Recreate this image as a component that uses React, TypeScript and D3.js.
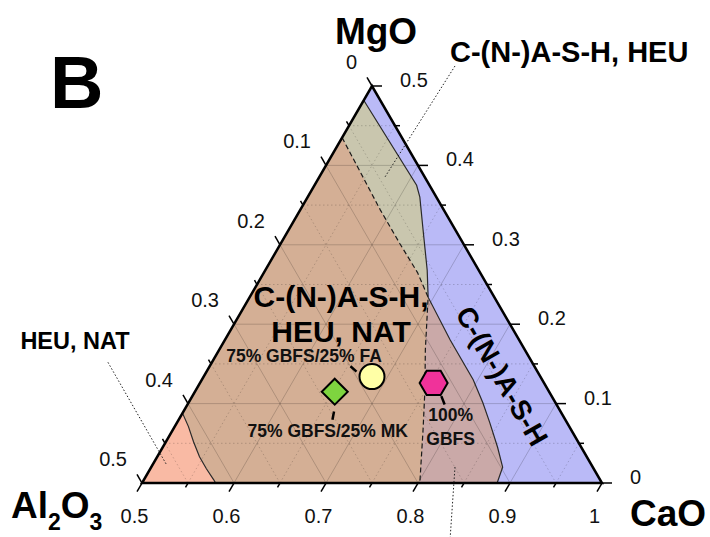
import React from "react";
import * as d3 from "d3";

// Ternary sub-triangle: CaO 0.5–1, MgO 0–0.5, Al2O3 0–0.5.
// Points are stored as [CaO, MgO]; Al2O3 = 1 - CaO - MgO.
type TP = [number, number];

const caoTicks = [0.5, 0.6, 0.7, 0.8, 0.9, 1];
const caoTickLabels = ["0.5", "0.6", "0.7", "0.8", "0.9", "1"];
const mgoTicks = [0, 0.1, 0.2, 0.3, 0.4, 0.5];
const mgoTickLabels = ["0", "0.1", "0.2", "0.3", "0.4", "0.5"];
const al2o3Ticks = [0, 0.1, 0.2, 0.3, 0.4, 0.5];
const al2o3TickLabels = ["0", "0.1", "0.2", "0.3", "0.4", "0.5"];
const minorSteps = [0.05, 0.1, 0.15, 0.2, 0.25, 0.3, 0.35, 0.4, 0.45];

// Phase-field boundaries
const heuNatBoundary: TP[] = [
  [0.5, 0.088], [0.515, 0.071], [0.53, 0.052], [0.546, 0.033],
  [0.561, 0.018], [0.576, 0.004], [0.58, 0],
];
const cashBoundary: TP[] = [
  [0.5, 0.482], [0.611, 0.375], [0.622, 0.36], [0.646, 0.319],
  [0.676, 0.268], [0.694, 0.234], [0.745, 0.18], [0.795, 0.13],
  [0.82, 0.101], [0.84, 0.076], [0.864, 0.045], [0.882, 0.02], [0.886, 0],
];
const dashedBoundary: TP[] = [
  [0.5, 0.435], [0.587, 0.344], [0.629, 0.302], [0.667, 0.265],
  [0.694, 0.234], [0.724, 0.168], [0.749, 0.117], [0.772, 0.067], [0.802, 0],
];

const mixNames = ["75% GBFS/25% FA", "75% GBFS/25% MK", "100% GBFS"];
const mixCaO = [0.683, 0.652, 0.754];
const mixMgO = [0.134, 0.115, 0.126];

const xScale = d3.scaleLinear().domain([0.5, 1]).range([142, 602]);
const yScale = d3.scaleLinear().domain([0, 0.5]).range([483, 86]);
const proj = (c: number, m: number): [number, number] => [xScale(c + m / 2), yScale(m)];

const lineGen = d3
  .line<TP>()
  .x((d) => proj(d[0], d[1])[0])
  .y((d) => proj(d[0], d[1])[1]);
const polyPath = (pts: TP[]) => lineGen(pts) + "Z";

const C_BROWN = "#D4AF95";
const C_GRAY = "#C9C6AE";
const C_BLUE = "#BABAF7";
const C_MAUVE = "#CAA9A8";
const C_SALMON = "#F9BAA4";

const FONT = "'Liberation Sans', Arial, Helvetica, sans-serif";

export default function App() {
  const triangle: TP[] = [[0.5, 0], [1, 0], [0.5, 0.5]];
  const grayPoly: TP[] = [...cashBoundary.slice(0, 6), ...dashedBoundary.slice(0, 4).reverse()];
  const bluePoly: TP[] = [...cashBoundary, [1, 0], [0.5, 0.5]];
  const mauvePoly: TP[] = [...dashedBoundary.slice(4), ...cashBoundary.slice(5).reverse()];
  const salmonPoly: TP[] = [[0.5, 0], ...heuNatBoundary];

  // grid lines
  const grid: { a: TP; b: TP; major: boolean }[] = [];
  minorSteps.forEach((v) => {
    const major = Math.abs(Math.round(v * 10) - v * 10) < 1e-6;
    const c = 0.5 + v;
    grid.push({ a: [c, 0], b: [c, 1 - c], major }); // constant CaO
    grid.push({ a: [0.5, v], b: [1 - v, v], major }); // constant MgO
    grid.push({ a: [0.5, 0.5 - v], b: [1 - v, 0], major }); // constant Al2O3
  });

  const tickVals = [0, ...minorSteps, 0.5];
  const ticks: JSX.Element[] = [];
  tickVals.forEach((v, i) => {
    const major = Math.abs(Math.round(v * 10) - v * 10) < 1e-6;
    const len = major ? 10 : 5;
    // CaO (bottom): along constant-CaO direction, outward down-left
    const [bx, by] = proj(0.5 + v, 0);
    ticks.push(<line key={"b" + i} x1={bx} y1={by} x2={bx - len * 0.5} y2={by + len * 0.866} />);
    // Al2O3 (left): along constant-Al2O3 direction, outward up-left
    const [lx, ly] = proj(0.5, 0.5 - v);
    ticks.push(<line key={"l" + i} x1={lx} y1={ly} x2={lx - len * 0.5} y2={ly - len * 0.866} />);
    // MgO (right): horizontal, outward to the right
    const [rx, ry] = proj(1 - v, v);
    ticks.push(<line key={"r" + i} x1={rx} y1={ry} x2={rx + len} y2={ry} />);
  });

  const [cx, cy] = proj(mixCaO[0], mixMgO[0]);
  const [dx, dy] = proj(mixCaO[1], mixMgO[1]);
  const [hx, hy] = proj(mixCaO[2], mixMgO[2]);
  const hexR = 14;
  const hexPts = d3.range(6).map((k) => {
    const ang = (Math.PI / 3) * k;
    return [hx + hexR * Math.cos(ang), hy + hexR * Math.sin(ang)].join(",");
  }).join(" ");
  const dR = 13;
  const diamondPts = [[dx, dy - dR], [dx + dR, dy], [dx, dy + dR], [dx - dR, dy]].map((p) => p.join(",")).join(" ");

  // leader targets for labels
  const heuLeaderA = proj(0.387, 0.152);
  const heuLeaderB = proj(0.5155, 0.0227);
  const topLeaderA = proj(0.5776, 0.5252);
  const topLeaderB = proj(0.5714, 0.3854);
  const botLeaderA = proj(0.8301, 0.0202);
  const botLeaderB = proj(0.8707, -0.0718);

  return (
    <svg
      width={710}
      height={537}
      style={{ position: "absolute", left: 0, top: 0, background: "#fff" }}
      fontFamily={FONT}
    >
      <rect x={0} y={0} width={710} height={537} fill="#fff" />

      {/* phase fields */}
      <path d={polyPath(triangle)} fill={C_BROWN} />
      <path d={polyPath(grayPoly)} fill={C_GRAY} />
      <path d={polyPath(bluePoly)} fill={C_BLUE} />
      <path d={polyPath(mauvePoly)} fill={C_MAUVE} />
      <path d={polyPath(salmonPoly)} fill={C_SALMON} />

      {/* grid */}
      <g stroke="#000" strokeOpacity={0.18} strokeWidth={1} fill="none">
        {grid.map((g, i) => {
          const [x1, y1] = proj(g.a[0], g.a[1]);
          const [x2, y2] = proj(g.b[0], g.b[1]);
          return (
            <line key={i} x1={x1} y1={y1} x2={x2} y2={y2} strokeDasharray={g.major ? undefined : "1.5,2.5"} />
          );
        })}
      </g>

      {/* boundaries */}
      <path d={lineGen(cashBoundary) || ""} fill="none" stroke="#2a2a2a" strokeWidth={1.2} />
      <path d={lineGen(heuNatBoundary) || ""} fill="none" stroke="#2a2a2a" strokeWidth={1.2} />
      <path d={lineGen(dashedBoundary) || ""} fill="none" stroke="#1a1a1a" strokeWidth={1.2} strokeDasharray="5,3" />

      {/* frame and ticks */}
      <path d={polyPath(triangle)} fill="none" stroke="#000" strokeWidth={2.5} strokeLinejoin="miter" />
      <g stroke="#000" strokeWidth={1.5}>{ticks}</g>

      {/* tick labels */}
      <g fontSize={20} fill="#111">
        {caoTicks.map((v, i) => {
          const [x, y] = proj(v, 0);
          return (
            <text key={"cl" + i} x={x - 7.5} y={y + 40} textAnchor="middle">
              {caoTickLabels[i]}
            </text>
          );
        })}
        {al2o3Ticks.map((v, i) => {
          const [x, y] = proj(0.5, 0.5 - v);
          return (
            <text key={"al" + i} x={x - 15} y={y - 17} textAnchor="end">
              {al2o3TickLabels[i]}
            </text>
          );
        })}
        {mgoTicks.map((v, i) => {
          const [x, y] = proj(1 - v, v);
          return (
            <text key={"ml" + i} x={x + 28} y={y + 1} textAnchor="start">
              {mgoTickLabels[i]}
            </text>
          );
        })}
      </g>

      {/* axis titles */}
      <g fontWeight="bold" fill="#000">
        <text x={50} y={108} fontSize={74}>B</text>
        <text x={376} y={44} fontSize={37} textAnchor="middle">MgO</text>
        <text x={630} y={526} fontSize={37}>CaO</text>
        <text x={11} y={518} fontSize={37}>
          Al
          <tspan fontSize={23} dy={12}>2</tspan>
          <tspan dy={-12}>O</tspan>
          <tspan fontSize={23} dy={12}>3</tspan>
        </text>
      </g>

      {/* field labels */}
      <g fontWeight="bold" fill="#000">
        <text x={450} y={62} fontSize={29}>C-(N-)A-S-H, HEU</text>
        <text x={75} y={349} fontSize={23.5} textAnchor="middle">HEU, NAT</text>
        <text x={341} y={307} fontSize={30} textAnchor="middle">C-(N-)A-S-H,</text>
        <text x={341} y={342} fontSize={30} textAnchor="middle">HEU, NAT</text>
        <text transform="translate(502,376) rotate(60)" fontSize={28} textAnchor="middle" dy="0.35em">
          C-(N-)A-S-H
        </text>
      </g>

      {/* dotted leaders */}
      <g stroke="#222" strokeWidth={1} strokeDasharray="1.5,2">
        <line x1={topLeaderA[0]} y1={topLeaderA[1]} x2={topLeaderB[0]} y2={topLeaderB[1]} />
        <line x1={heuLeaderA[0]} y1={heuLeaderA[1]} x2={heuLeaderB[0]} y2={heuLeaderB[1]} />
        <line x1={botLeaderA[0]} y1={botLeaderA[1]} x2={botLeaderB[0]} y2={botLeaderB[1]} />
      </g>

      {/* mixes */}
      <g stroke="#000" strokeWidth={2.5}>
        <line x1={cx - 21.5} y1={cy - 10.3} x2={cx - 15.5} y2={cy - 5} />
        <line x1={dx - 0.7} y1={dy + 19.7} x2={dx - 2.3} y2={dy + 28} />
        <line x1={hx + 7.7} y1={hy + 13.2} x2={hx + 11} y2={hy + 21.5} />
      </g>
      <circle cx={cx} cy={cy} r={12.5} fill="#FFFFA6" stroke="#000" strokeWidth={2} />
      <polygon points={diamondPts} fill="#7ED43F" stroke="#000" strokeWidth={2} />
      <polygon points={hexPts} fill="#F0329A" stroke="#000" strokeWidth={2} />

      <g fontWeight="bold" fontSize={17.5} fill="#111" textAnchor="middle">
        <text x={cx - 68} y={cy - 15}>{mixNames[0]}</text>
        <text x={dx - 7} y={dy + 45}>{mixNames[1]}</text>
        <text x={hx + 17} y={hy + 38.5}>100%</text>
        <text x={hx + 17} y={hy + 62}>GBFS</text>
      </g>
    </svg>
  );
}
